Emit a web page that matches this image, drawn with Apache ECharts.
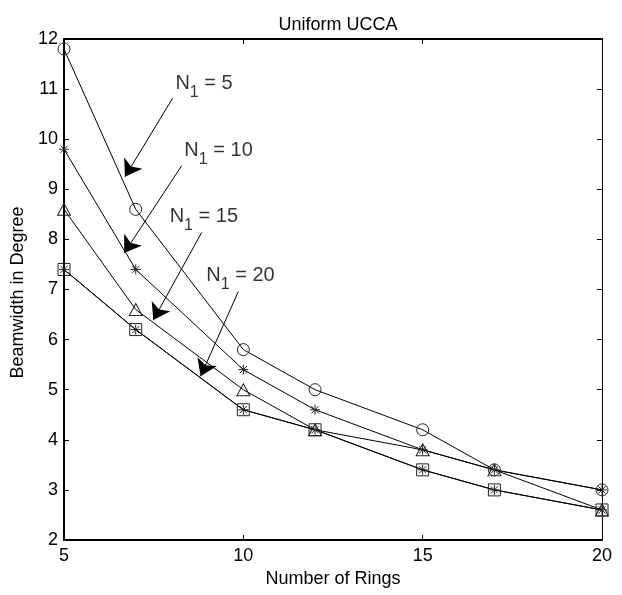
<!DOCTYPE html>
<html>
<head>
<meta charset="utf-8">
<script src="https://cdn.jsdelivr.net/npm/echarts@6/dist/echarts.min.js"></script>
<style>
  html, body { margin: 0; padding: 0; background: #fff; }
  #main { width: 622px; height: 595px; }
</style>
</head>
<body>
<div id="main"></div>
<script>
// data
const rings = [5, 7, 10, 12, 15, 17, 20];
const n1_5 = [11.8, 8.6, 5.8, 5.0, 4.2, 3.4, 3.0];
const n1_10 = [9.8, 7.4, 5.4, 4.6, 3.8, 3.4, 3.0];
const n1_15 = [8.6, 6.6, 5.0, 4.2, 3.8, 3.4, 2.6];
const n1_20 = [7.4, 6.2, 4.6, 4.2, 3.4, 3.0, 2.6];

// annotations (data coords): arrow start -> tip, label top-left
const noteText = ['5', '10', '15', '20'];
const arrowFrom = [[8.03, 10.82], [8.28, 9.47], [8.84, 8.14], [9.86, 6.96]];
const arrowTo = [[6.70, 9.25], [6.68, 7.73], [7.49, 6.39], [8.81, 5.27]];
const noteAt = [[8.12, 11.30], [8.37, 9.96], [7.96, 8.65], [8.98, 7.46]];

const xTicks = { min: 5, max: 20, interval: 5 };
const yTicks = { min: 2, max: 12, interval: 1 };

const font = '"Liberation Sans", Arial, Helvetica, sans-serif';
const star = 'path://M0,-5L0,5M-5,0L5,0M-3.6,-3.6L3.6,3.6M-3.6,3.6L3.6,-3.6';

function pts(ys) {
  return rings.map((r, i) => [r, ys[i]]);
}

function curve(name, ys, symbol, size) {
  return {
    name: name,
    type: 'line',
    data: pts(ys),
    symbol: symbol,
    symbolSize: size,
    showSymbol: true,
    lineStyle: { color: '#000', width: 1 },
    itemStyle: { color: 'rgba(0,0,0,0)', borderColor: '#222', borderWidth: 1 },
    emphasis: { disabled: true },
    z: 3
  };
}

var chartDom = document.getElementById('main');
var myChart = echarts.init(chartDom);
var option;

option = {
  animation: false,
  textStyle: { fontFamily: font },
  title: {
    text: 'Uniform UCCA',
    left: 333,
    textAlign: 'center',
    top: 11,
    textStyle: { fontFamily: font, fontSize: 18, fontWeight: 'normal', color: '#000' }
  },
  grid: {
    left: 64,
    right: 20,
    top: 39,
    bottom: 55,
    containLabel: false
  },
  xAxis: [{
    type: 'value',
    min: xTicks.min,
    max: xTicks.max,
    interval: xTicks.interval,
    name: 'Number of Rings',
    nameLocation: 'middle',
    nameGap: 29,
    nameTextStyle: { fontFamily: font, fontSize: 18, color: '#000' },
    axisLine: { onZero: false, lineStyle: { color: '#000', width: 2 } },
    axisTick: { inside: true, length: 5, lineStyle: { color: '#000' } },
    axisLabel: { margin: 7, fontFamily: font, fontSize: 18, color: '#000' },
    splitLine: { show: false }
  }, {
    type: 'value',
    position: 'top',
    min: xTicks.min,
    max: xTicks.max,
    interval: xTicks.interval,
    axisLine: { onZero: false, lineStyle: { color: '#000', width: 2 } },
    axisTick: { inside: true, length: 5, lineStyle: { color: '#000' } },
    axisLabel: { show: false },
    splitLine: { show: false }
  }],
  yAxis: [{
    type: 'value',
    min: yTicks.min,
    max: yTicks.max,
    interval: yTicks.interval,
    name: 'Beamwidth in Degree',
    nameLocation: 'middle',
    nameGap: 30,
    nameTextStyle: { fontFamily: font, fontSize: 18, color: '#000', padding: [0, 6, 0, 0] },
    axisLine: { onZero: false, lineStyle: { color: '#000', width: 2 } },
    axisTick: { inside: true, length: 5, lineStyle: { color: '#000' } },
    axisLabel: { margin: 6, fontFamily: font, fontSize: 18, color: '#000' },
    splitLine: { show: false }
  }, {
    type: 'value',
    position: 'right',
    min: yTicks.min,
    max: yTicks.max,
    interval: yTicks.interval,
    axisLine: { onZero: false, lineStyle: { color: '#000', width: 1 } },
    axisTick: { inside: true, length: 5, lineStyle: { color: '#000' } },
    axisLabel: { show: false },
    splitLine: { show: false }
  }],
  series: [
    curve('N1 = 5', n1_5, 'circle', 12),
    curve('N1 = 10', n1_10, star, 10),
    curve('N1 = 15', n1_15, 'triangle', [13, 12]),
    curve('N1 = 20', n1_20, 'rect', 12),
    curve('N1 = 20 *', n1_20, star, 10),
    {
      type: 'lines',
      coordinateSystem: 'cartesian2d',
      polyline: false,
      symbol: ['none', 'arrow'],
      symbolSize: [10, 16],
      lineStyle: { color: '#000', width: 1, opacity: 1 },
      data: arrowFrom.map((p, i) => ({ coords: [p, arrowTo[i]] })),
      silent: true,
      z: 4
    },
    {
      type: 'scatter',
      symbolSize: 1,
      itemStyle: { color: 'rgba(0,0,0,0)' },
      silent: true,
      data: noteAt.map((p, i) => ({ value: p, txt: noteText[i] })),
      label: {
        show: true,
        position: [0, 0],
        formatter: (p) => '{n|N}{s|1}{n| = ' + noteText[p.dataIndex] + '}',
        rich: {
          n: { fontFamily: font, fontSize: 20, lineHeight: 20, color: '#000' },
          s: { fontFamily: font, fontSize: 16, lineHeight: 16, padding: [18, 0, 0, 0], color: '#000' }
        }
      },
      z: 5
    }
  ]
};

option && myChart.setOption(option);
</script>
</body>
</html>
